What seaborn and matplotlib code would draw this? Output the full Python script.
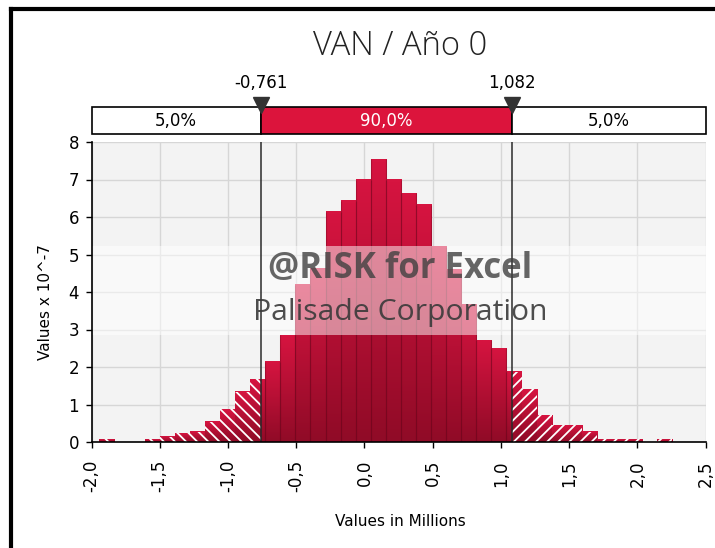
import numpy as np
import pandas as pd
import matplotlib.pyplot as plt
import matplotlib.patches as mpatches
from matplotlib.lines import Line2D
from matplotlib.colors import LinearSegmentedColormap
import seaborn as sns

# histogram bin edges (values in millions)
bin_edges = [-1.943, -1.832, -1.722, -1.611, -1.501, -1.390, -1.280, -1.169,
             -1.059, -0.948, -0.838, -0.727, -0.617, -0.506, -0.396, -0.285,
             -0.175, -0.064, 0.046, 0.157, 0.268, 0.378, 0.489, 0.599,
             0.710, 0.820, 0.931, 1.041, 1.152, 1.262, 1.373, 1.483,
             1.594, 1.704, 1.815, 1.925, 2.036, 2.146, 2.257]
# bar heights (values x 10^-7)
bin_values = [0.07, 0.0, 0.0, 0.07, 0.14, 0.23, 0.27, 0.54,
              0.87, 1.34, 1.67, 2.14, 2.85, 4.19, 4.63, 6.14,
              6.43, 7.0, 7.54, 7.0, 6.63, 6.32, 5.2, 4.6,
              3.66, 2.72, 2.5, 1.87, 1.41, 0.72, 0.45, 0.45,
              0.27, 0.07, 0.07, 0.07, 0.0, 0.07]

cut_low = -0.761
cut_high = 1.082
cut_labels = ['-0,761', '1,082']
band_labels = ['5,0%', '90,0%', '5,0%']

x_ticks = [-2.0, -1.5, -1.0, -0.5, 0.0, 0.5, 1.0, 1.5, 2.0, 2.5]
x_tick_labels = ['-2,0', '-1,5', '-1,0', '-0,5', '0,0', '0,5', '1,0', '1,5', '2,0', '2,5']
y_ticks = [0, 1, 2, 3, 4, 5, 6, 7, 8]

# split the bins that straddle the cut-offs so each piece can be styled apart
edges = sorted(bin_edges + [cut_low, cut_high])
rows = []
for a, b in zip(edges[:-1], edges[1:]):
    k = int(np.searchsorted(bin_edges, (a + b) / 2)) - 1
    rows.append({'mid': (a + b) / 2, 'value': bin_values[k]})
df = pd.DataFrame(rows)

plt.rcParams['hatch.linewidth'] = 1.3
W, H = 715, 548
fig = plt.figure(figsize=(W / 100, H / 100), dpi=100)
fig.patch.set_facecolor('white')

ax = fig.add_axes([91.5 / W, 1 - 442 / H, 614 / W, 300 / H])
ax.set_facecolor('#f3f3f3')
sns.histplot(data=df, x='mid', weights='value', bins=edges, color='#c8102e',
             alpha=1, linewidth=0, ax=ax, zorder=2)

# vertical shading on each bar, hatching on the tails
cmap = LinearSegmentedColormap.from_list('bar', ['#900b27', '#d61440'])
grad = np.linspace(0, 1, 64).reshape(-1, 1)
for p in list(ax.patches):
    h = p.get_height()
    if h <= 0:
        continue
    x0, w = p.get_x(), p.get_width()
    ax.imshow(grad, extent=[x0, x0 + w, 0, h], origin='lower', aspect='auto',
              cmap=cmap, zorder=2.2, interpolation='bilinear')
    mid = x0 + w / 2
    if mid < cut_low or mid > cut_high:
        ax.add_patch(mpatches.Rectangle((x0, 0), w, h, facecolor='none', edgecolor='white',
                                        lw=0, hatch='\\\\\\' if mid < cut_low else '///',
                                        zorder=2.4))
    else:
        ax.vlines([x0, x0 + w], 0, h, color=(0.4, 0.02, 0.1, 0.35), lw=0.8, zorder=2.4)

ax.set_xlim(-2.0, 2.5)
ax.set_ylim(0, 8)
ax.set_xticks(x_ticks)
ax.set_xticklabels(x_tick_labels, rotation=90)
ax.set_yticks(y_ticks)
ax.set_xlabel('')
ax.set_ylabel('')
ax.grid(True, color='#d6d6d6', lw=1)
ax.set_axisbelow(True)
for s in ['top', 'right']:
    ax.spines[s].set_visible(False)
for s in ['left', 'bottom']:
    ax.spines[s].set_color('black')
    ax.spines[s].set_linewidth(1.2)
    ax.spines[s].set_zorder(5)
ax.tick_params(axis='both', length=4, width=1, color='black', labelsize=12)
ax.tick_params(axis='x', pad=9)
ax.tick_params(axis='y', pad=5)

# watermark band and text
ax.axhspan(2.853, 5.235, color='white', alpha=0.5, lw=0, zorder=3)
ax.axvline(cut_low, color='#2b2b2b', lw=1.1, zorder=3.5)
ax.axvline(cut_high, color='#2b2b2b', lw=1.1, zorder=3.5)
ax.text(0.5024, 0.578, '@RISK for Excel', transform=ax.transAxes, ha='center', va='center',
        fontsize=25, fontweight='bold', family='Open Sans', color='#404040', alpha=0.8, zorder=4)
ax.text(0.5024, 0.432, 'Palisade Corporation', transform=ax.transAxes, ha='center', va='center',
        fontsize=21.7, family='Open Sans', color='#3a3a3a', alpha=0.9, zorder=4)

# percentile strip above the plot
top = fig.add_axes([91.5 / W, 1 - 134 / H, 614 / W, 27 / H])
top.set_xlim(-2.0, 2.5)
top.set_ylim(0, 1)
top.axis('off')
bounds = [-2.0, cut_low, cut_high, 2.5]
faces = ['white', '#dc143c', 'white']
text_colors = ['black', 'white', 'black']
for i in range(3):
    top.add_patch(mpatches.Rectangle((bounds[i], 0), bounds[i + 1] - bounds[i], 1,
                                     facecolor=faces[i], edgecolor='black', lw=1.2,
                                     clip_on=False))
    top.text((bounds[i] + bounds[i + 1]) / 2, 0.48, band_labels[i], ha='center', va='center',
             fontsize=12, color=text_colors[i])
top.plot([cut_low, cut_high], [1.09, 1.09], ls='none', marker='v', ms=11.5,
         color='#333333', clip_on=False, zorder=5)
for xv, lab in zip([cut_low, cut_high], cut_labels):
    top.text(xv, 1.9, lab, ha='center', va='center', fontsize=12, clip_on=False)

fig.text(400 / W, 1 - 46 / H, 'VAN / Año 0', ha='center', va='center', fontsize=23.6,
         family='Open Sans', fontweight='light', color='#222222')
fig.text(400 / W, 1 - 521 / H, 'Values in Millions', ha='center', va='center', fontsize=11)
fig.text(45 / W, 1 - 302 / H, 'Values x 10^-7', ha='center', va='center', fontsize=11,
         rotation=90)

# black frame around the chart
fig.add_artist(Line2D([11 / W, 11 / W], [0, 1 - 9 / H], color='black', lw=3))
fig.add_artist(Line2D([11 / W, 1], [1 - 9 / H, 1 - 9 / H], color='black', lw=3))

fig.savefig('out.png', dpi=100)
